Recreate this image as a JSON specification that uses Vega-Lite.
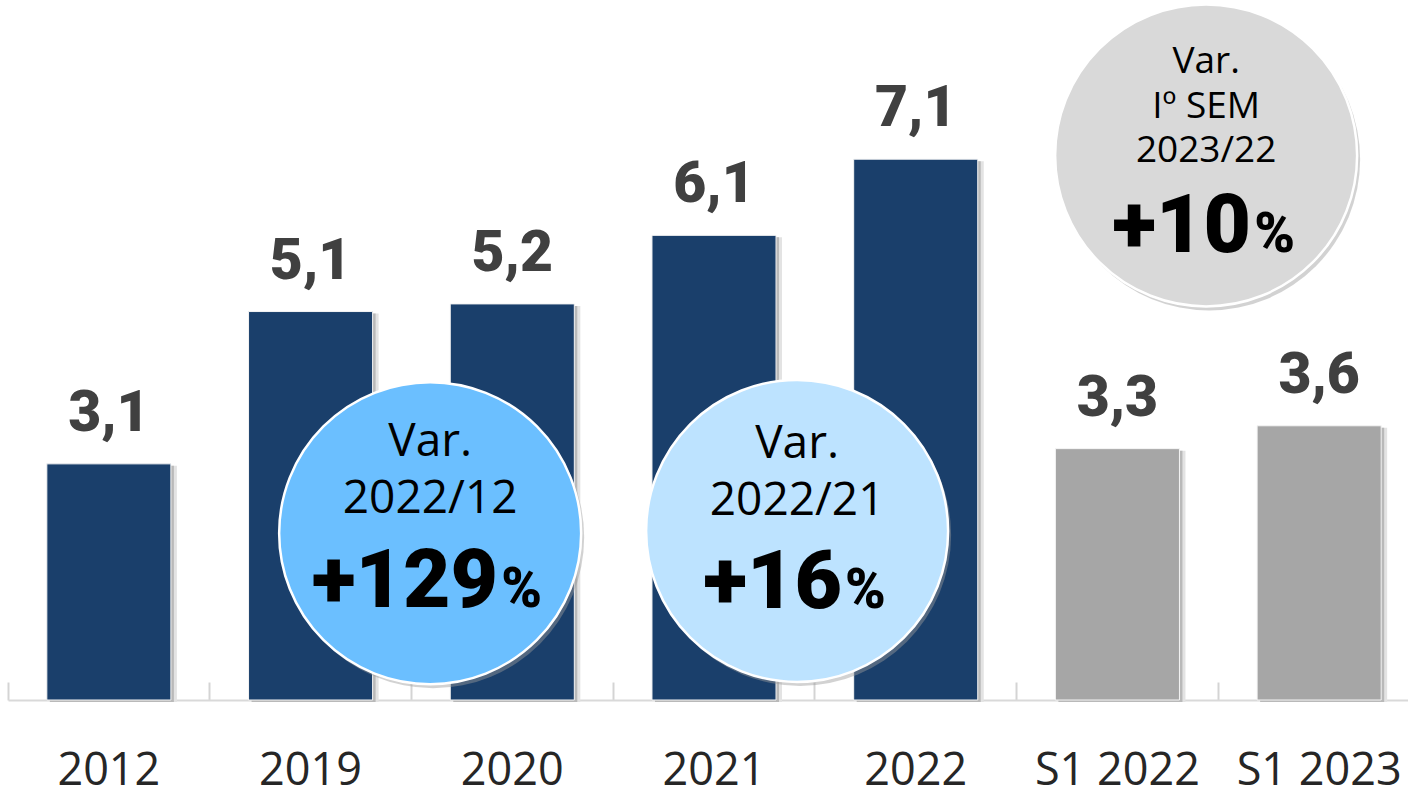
{
  "$schema": "https://vega.github.io/schema/vega-lite/v6.json",
  "width": 1400,
  "height": 700,
  "autosize": {"type": "none"},
  "padding": {"left": 8, "top": 0, "right": 0, "bottom": 97},
  "background": "white",
  "config": {
    "view": {"stroke": null},
    "axisX": {
      "title": null,
      "labelAngle": 0,
      "domain": true,
      "ticks": true,
      "domainColor": "#d9d9d9",
      "domainWidth": 2,
      "tickColor": "#d4d4d4",
      "tickWidth": 2,
      "tickSize": -18,
      "bandPosition": -0.313,
      "labelFont": "Open Sans",
      "labelFontSize": 45,
      "labelColor": "#262626",
      "labelBaseline": "alphabetic",
      "labelPadding": 102,
      "grid": false,
      "zindex": 1
    }
  },
  "datasets": {
    "bars": [
      {"period": "2012", "value": 3.1, "label": "3,1", "kind": "year"},
      {"period": "2019", "value": 5.1, "label": "5,1", "kind": "year"},
      {"period": "2020", "value": 5.2, "label": "5,2", "kind": "year"},
      {"period": "2021", "value": 6.1, "label": "6,1", "kind": "year"},
      {"period": "2022", "value": 7.1, "label": "7,1", "kind": "year"},
      {"period": "S1 2022", "value": 3.3, "label": "3,3", "kind": "semester"},
      {"period": "S1 2023", "value": 3.6, "label": "3,6", "kind": "semester"}
    ]
  },
  "layer": [
    {
      "data": {"name": "bars"},
      "mark": {"type": "bar", "color": "#e3e3e3", "xOffset": 6, "yOffset": 2},
      "encoding": {
        "x": {
          "field": "period",
          "type": "nominal",
          "title": null,
          "scale": {
            "domain": ["2012", "2019", "2020", "2021", "2022", "S1 2022", "S1 2023"],
            "range": [0, 1412],
            "paddingInner": 0.385,
            "paddingOuter": 0.1925
          },
          "axis": {"title": null, "ticks": true, "tickSize": -18, "bandPosition": -0.313}
        },
        "y": {
          "field": "value",
          "type": "quantitative",
          "scale": {"domain": [0, 9.19], "nice": false, "zero": true},
          "axis": null
        }
      }
    },
    {
      "data": {"name": "bars"},
      "mark": {"type": "bar", "color": "#b9b9b9", "xOffset": 3, "yOffset": 2},
      "encoding": {
        "x": {"field": "period", "type": "nominal", "title": null, "axis": {"title": null}},
        "y": {"field": "value", "type": "quantitative", "axis": null}
      }
    },
    {
      "data": {"name": "bars"},
      "mark": {"type": "bar", "stroke": "#f4f4f4", "strokeWidth": 1},
      "encoding": {
        "x": {"field": "period", "type": "nominal", "title": null, "axis": {"title": null}},
        "y": {"field": "value", "type": "quantitative", "axis": null},
        "color": {
          "field": "kind",
          "type": "nominal",
          "scale": {"domain": ["year", "semester"], "range": ["#1a3f6b", "#a6a6a6"]},
          "legend": null
        }
      }
    },
    {
      "data": {"name": "bars"},
      "mark": {"type": "text", "dy": -33, "baseline": "alphabetic", "font": "Roboto", "fontWeight": 900, "fontSize": 57, "color": "#404040"},
      "encoding": {
        "x": {"field": "period", "type": "nominal", "title": null, "axis": {"title": null}},
        "y": {"field": "value", "type": "quantitative", "axis": null},
        "text": {"field": "label"}
      }
    },
    {
      "data": {"values": [{"head": "Var.", "sub": "2022/12", "big": "+129", "pct": "%"}]},
      "encoding": {
        "x": {"datum": "2019", "type": "nominal", "bandPosition": 1.464, "title": null, "axis": {"title": null}},
        "y": {"datum": 2.19, "type": "quantitative", "axis": null}
      },
      "layer": [
        {"mark": {"type": "point", "shape": "circle", "filled": true, "size": 91204, "color": "#9c9c9c", "opacity": 0.45, "xOffset": 3, "yOffset": 4}},
        {"mark": {"type": "point", "shape": "circle", "filled": true, "size": 91204, "fill": "#6bbfff", "stroke": "white", "strokeWidth": 2.5, "opacity": 1}},
        {"mark": {"type": "text", "dy": -77, "baseline": "alphabetic", "font": "Open Sans", "fontSize": 46, "color": "black"}, "encoding": {"text": {"field": "head"}}},
        {"mark": {"type": "text", "dy": -20, "baseline": "alphabetic", "font": "Open Sans", "fontSize": 46, "color": "black"}, "encoding": {"text": {"field": "sub"}}},
        {"mark": {"type": "text", "dy": 74, "dx": 68, "align": "right", "baseline": "alphabetic", "font": "Roboto", "fontWeight": 900, "fontSize": 82, "color": "black"}, "encoding": {"text": {"field": "big"}}},
        {"mark": {"type": "text", "dy": 74, "dx": 71, "align": "left", "baseline": "alphabetic", "font": "Roboto", "fontWeight": 900, "fontSize": 55, "color": "black"}, "encoding": {"text": {"field": "pct"}}}
      ]
    },
    {
      "data": {"values": [{"head": "Var.", "sub": "2022/21", "big": "+16", "pct": "%"}]},
      "encoding": {
        "x": {"datum": "2021", "type": "nominal", "bandPosition": 1.17, "title": null, "axis": {"title": null}},
        "y": {"datum": 2.22, "type": "quantitative", "axis": null}
      },
      "layer": [
        {"mark": {"type": "point", "shape": "circle", "filled": true, "size": 91204, "color": "#9c9c9c", "opacity": 0.45, "xOffset": 3, "yOffset": 4}},
        {"mark": {"type": "point", "shape": "circle", "filled": true, "size": 91204, "fill": "#bde3ff", "stroke": "white", "strokeWidth": 2.5, "opacity": 1}},
        {"mark": {"type": "text", "dy": -73, "baseline": "alphabetic", "font": "Open Sans", "fontSize": 46, "color": "black"}, "encoding": {"text": {"field": "head"}}},
        {"mark": {"type": "text", "dy": -16, "baseline": "alphabetic", "font": "Open Sans", "fontSize": 46, "color": "black"}, "encoding": {"text": {"field": "sub"}}},
        {"mark": {"type": "text", "dy": 77, "dx": 45, "align": "right", "baseline": "alphabetic", "font": "Roboto", "fontWeight": 900, "fontSize": 82, "color": "black"}, "encoding": {"text": {"field": "big"}}},
        {"mark": {"type": "text", "dy": 77, "dx": 48, "align": "left", "baseline": "alphabetic", "font": "Roboto", "fontWeight": 900, "fontSize": 55, "color": "black"}, "encoding": {"text": {"field": "pct"}}}
      ]
    },
    {
      "data": {"values": [{"head": "Var.", "mid": "Iº SEM", "sub": "2023/22", "big": "+10", "pct": "%"}]},
      "encoding": {
        "x": {"datum": "S1 2022", "type": "nominal", "bandPosition": 1.215, "title": null, "axis": {"title": null}},
        "y": {"datum": 7.15, "type": "quantitative", "axis": null}
      },
      "layer": [
        {"mark": {"type": "point", "shape": "circle", "filled": true, "size": 91204, "color": "#9c9c9c", "opacity": 0.45, "xOffset": 3, "yOffset": 4}},
        {"mark": {"type": "point", "shape": "circle", "filled": true, "size": 91204, "fill": "#d9d9d9", "stroke": "white", "strokeWidth": 2.5, "opacity": 1}},
        {"mark": {"type": "text", "dy": -82, "baseline": "alphabetic", "font": "Open Sans", "fontSize": 37, "color": "black"}, "encoding": {"text": {"field": "head"}}},
        {"mark": {"type": "text", "dy": -37, "baseline": "alphabetic", "font": "Open Sans", "fontSize": 37, "color": "black"}, "encoding": {"text": {"field": "mid"}}},
        {"mark": {"type": "text", "dy": 7, "baseline": "alphabetic", "font": "Open Sans", "fontSize": 37, "color": "black"}, "encoding": {"text": {"field": "sub"}}},
        {"mark": {"type": "text", "dy": 97, "dx": 45, "align": "right", "baseline": "alphabetic", "font": "Roboto", "fontWeight": 900, "fontSize": 82, "color": "black"}, "encoding": {"text": {"field": "big"}}},
        {"mark": {"type": "text", "dy": 97, "dx": 48, "align": "left", "baseline": "alphabetic", "font": "Roboto", "fontWeight": 900, "fontSize": 55, "color": "black"}, "encoding": {"text": {"field": "pct"}}}
      ]
    }
  ]
}
